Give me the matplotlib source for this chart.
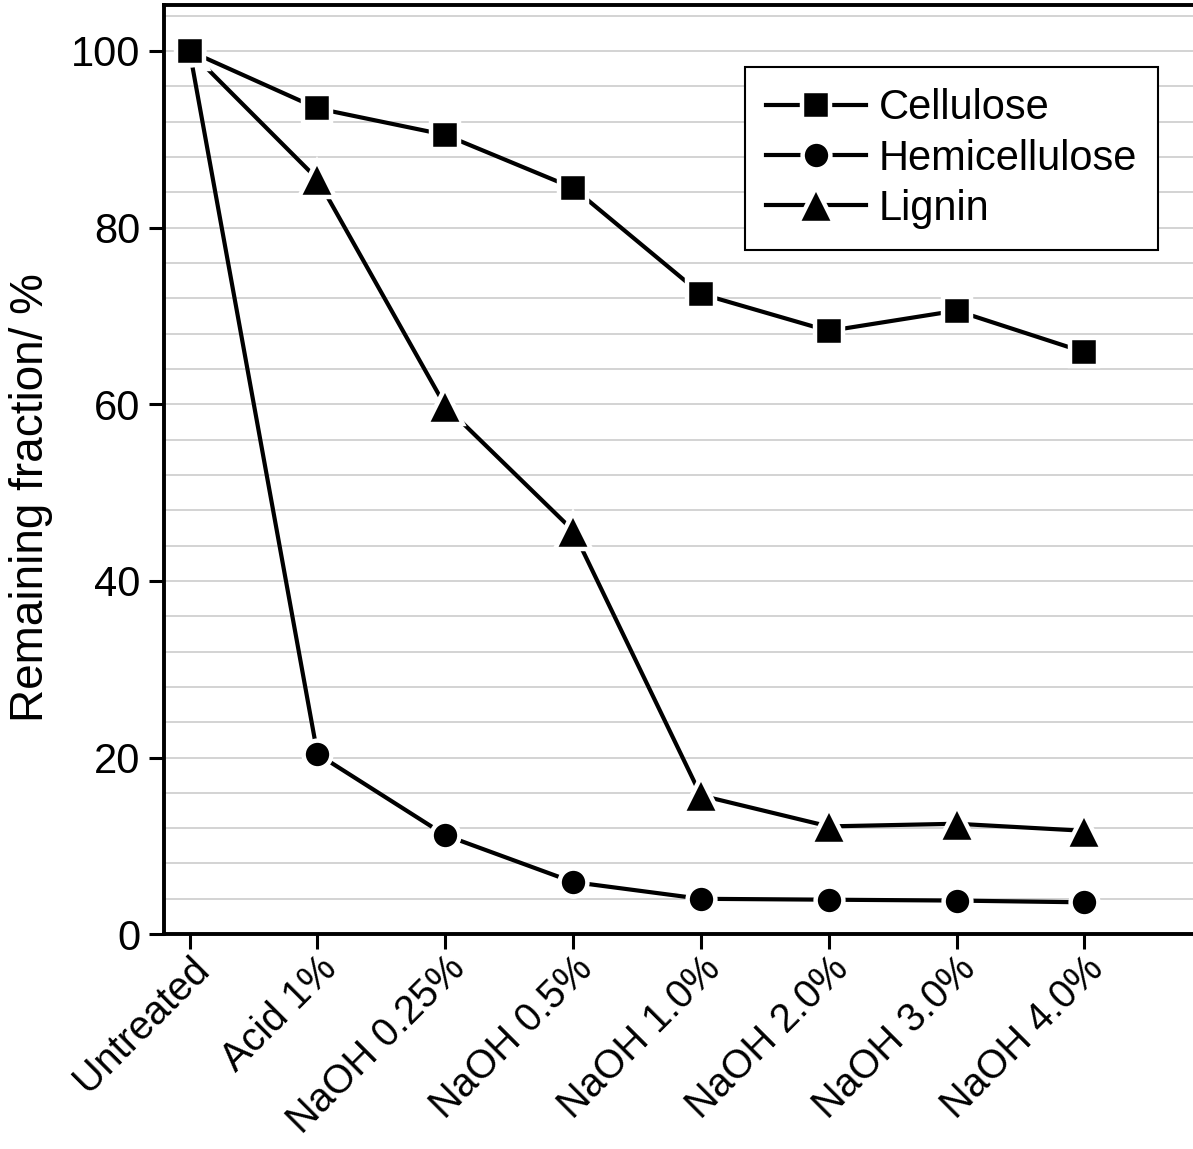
import matplotlib.pyplot as plt
import numpy as np

plt.rcParams["font.family"] = ["Liberation Sans", "DejaVu Sans"]

# treatments along the x axis
treatments = ["Untreated", "Acid 1%", "NaOH 0.25%", "NaOH 0.5%",
              "NaOH 1.0%", "NaOH 2.0%", "NaOH 3.0%", "NaOH 4.0%"]

# remaining fraction (%)
cellulose = [100, 93.5, 90.5, 84.5, 72.5, 68.3, 70.6, 65.9]
hemicellulose = [100, 20.4, 11.2, 5.9, 4.0, 3.9, 3.8, 3.6]
lignin = [100, 85.5, 59.8, 45.7, 15.7, 12.2, 12.5, 11.7]


def main():
    fig = plt.figure(figsize=(11.93, 11.49), dpi=100)
    ax = fig.add_axes([0.1375, 0.187, 0.8625, 0.8086])

    x = np.arange(len(treatments))
    style = dict(color="black", lw=3.0, mew=3.2, mec="white", mfc="black")
    ax.plot(x, lignin, marker="^", ms=26, label="Lignin", zorder=3, **style)
    ax.plot(x, hemicellulose, marker="o", ms=20, label="Hemicellulose", zorder=4, **style)
    ax.plot(x, cellulose, marker="s", ms=19.5, label="Cellulose", zorder=5, **style)

    ax.set_xlim(-0.2, 7.85)
    ax.set_ylim(0, 105.2)
    ax.set_xticks(x)
    ax.set_xticklabels(treatments, rotation=45, ha="right", rotation_mode="anchor",
                       fontsize=28.5)
    ax.set_yticks(np.arange(0, 101, 20))
    ax.set_yticks(np.arange(0, 105, 4), minor=True)
    ax.grid(axis="y", which="both", color="#c8c8c8", lw=1.1, zorder=0)
    ax.set_axisbelow(True)

    ax.tick_params(axis="y", which="major", labelsize=30)
    ax.tick_params(axis="both", which="major", length=11,
                   width=2.2, direction="out", pad=6)
    ax.tick_params(axis="x", which="major", pad=0)
    ax.tick_params(axis="y", which="minor", length=0)
    ax.set_ylabel("Remaining fraction/ %", fontsize=33)
    ax.yaxis.set_label_coords(-0.108, 0.47)

    for side in ["left", "bottom", "top"]:
        ax.spines[side].set_linewidth(2.8)
    ax.spines["right"].set_visible(False)

    # legend order: cellulose, hemicellulose, lignin
    handles, labels = ax.get_legend_handles_labels()
    order = [2, 1, 0]
    leg = ax.legend([handles[i] for i in order], [labels[i] for i in order],
                    loc="upper right", bbox_to_anchor=(0.966, 0.933),
                    borderaxespad=0, fontsize=30, handlelength=2.4,
                    handletextpad=0.3, borderpad=0.5, labelspacing=0.25,
                    fancybox=False, framealpha=1, edgecolor="black")
    leg.get_frame().set_linewidth(1.5)

    fig.savefig("out.png", dpi=100)


main()
